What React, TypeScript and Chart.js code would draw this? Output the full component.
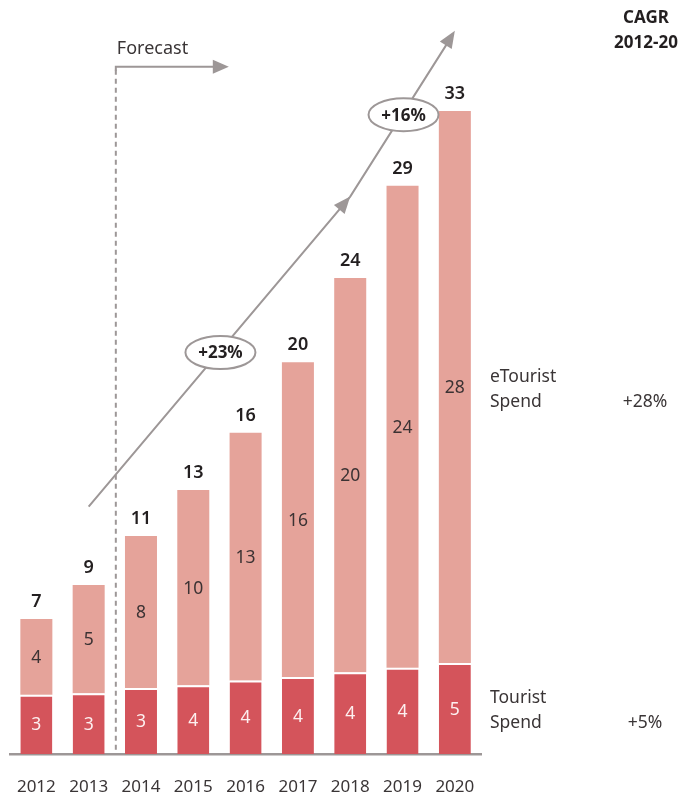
import React, { useEffect, useRef } from "react";
import { Chart, registerables } from "chart.js";

Chart.register(...registerables);

const years = ["2012", "2013", "2014", "2015", "2016", "2017", "2018", "2019", "2020"];
const touristSpend = [3.06, 3.13, 3.4, 3.54, 3.79, 3.96, 4.21, 4.44, 4.68];
const eTouristSpend = [3.88, 5.55, 7.79, 10.01, 12.7, 16.14, 20.22, 24.72, 28.31];
const touristLabels = ["3", "3", "3", "4", "4", "4", "4", "4", "5"];
const eTouristLabels = ["4", "5", "8", "10", "13", "16", "20", "24", "28"];
const totalLabels = ["7", "9", "11", "13", "16", "20", "24", "29", "33"];
const seriesNames = [["Tourist", "Spend"], ["eTourist", "Spend"]];
const cagrValues = ["+5%", "+28%"];
const cagrTitle = ["CAGR", "2012-20"];
const growthLabels = ["+23%", "+16%"];
const forecastLabel = "Forecast";

const FONT = '"Noto Sans", "DejaVu Sans", sans-serif';
const DARK = "#d4545b";
const LIGHT = "#e5a39a";
const GREY = "#9d9797";
const TEXT = "#231f20";

function arrowHead(ctx: CanvasRenderingContext2D, x0: number, y0: number, x1: number, y1: number, len: number, half: number) {
  const a = Math.atan2(y1 - y0, x1 - x0);
  const bx = x1 - len * Math.cos(a);
  const by = y1 - len * Math.sin(a);
  ctx.beginPath();
  ctx.moveTo(x1, y1);
  ctx.lineTo(bx + half * Math.sin(a), by - half * Math.cos(a));
  ctx.lineTo(bx - half * Math.sin(a), by + half * Math.cos(a));
  ctx.closePath();
  ctx.fill();
}

const overlayPlugin = {
  id: "overlay",
  afterDatasetsDraw(chart: any) {
    const ctx: CanvasRenderingContext2D = chart.ctx;
    const xs = chart.scales.x;
    const ys = chart.scales.y;
    const area = chart.chartArea;
    ctx.save();
    ctx.textAlign = "center";
    ctx.textBaseline = "middle";

    // segment labels
    const m0 = chart.getDatasetMeta(0);
    const m1 = chart.getDatasetMeta(1);
    m0.data.forEach((el: any, i: number) => {
      ctx.font = `17.5px ${FONT}`;
      ctx.fillStyle = "#fdf0f0";
      ctx.fillText(touristLabels[i], el.x, (el.y + el.base) / 2 + 1);
    });
    m1.data.forEach((el: any, i: number) => {
      ctx.font = `17.5px ${FONT}`;
      ctx.fillStyle = "#3b3233";
      ctx.fillText(eTouristLabels[i], el.x, (el.y + el.base) / 2 + 1);
      ctx.font = `600 18px ${FONT}`;
      ctx.fillStyle = TEXT;
      ctx.fillText(totalLabels[i], el.x, el.y - 17);
    });

    // forecast divider
    const fx = (xs.getPixelForValue(1) + xs.getPixelForValue(2)) / 2 + 1;
    const fy = ys.getPixelForValue(35.26);
    ctx.strokeStyle = GREY;
    ctx.fillStyle = GREY;
    ctx.lineWidth = 2;
    ctx.setLineDash([5, 4]);
    ctx.beginPath();
    ctx.moveTo(fx, fy + 3);
    ctx.lineTo(fx, area.bottom);
    ctx.stroke();
    ctx.setLineDash([]);
    const fEnd = fx + 113;
    ctx.beginPath();
    ctx.moveTo(fx, fy + 4);
    ctx.lineTo(fx, fy);
    ctx.lineTo(fEnd - 12, fy);
    ctx.stroke();
    arrowHead(ctx, fx, fy, fEnd, fy, 16, 7);
    ctx.font = `18px ${FONT}`;
    ctx.fillStyle = "#3a3536";
    ctx.textAlign = "left";
    ctx.fillText(forecastLabel, fx + 1, fy - 18);

    // growth arrow
    const p0 = { x: xs.getPixelForValue(1), y: ys.getPixelForValue(12.7) };
    const p1 = { x: xs.getPixelForValue(6), y: ys.getPixelForValue(28.6) };
    const p2 = { x: xs.getPixelForValue(8), y: ys.getPixelForValue(37.1) };
    ctx.strokeStyle = GREY;
    ctx.fillStyle = GREY;
    ctx.lineWidth = 2;
    ctx.beginPath();
    ctx.moveTo(p0.x, p0.y);
    ctx.lineTo(p1.x, p1.y);
    ctx.lineTo(p2.x - 6, p2.y + 10);
    ctx.stroke();
    arrowHead(ctx, p0.x, p0.y, p1.x, p1.y, 17, 7);
    arrowHead(ctx, p1.x, p1.y, p2.x, p2.y, 17, 7);

    const bubbles = [
      { x: (xs.getPixelForValue(3) + xs.getPixelForValue(4)) / 2 + 1, y: ys.getPixelForValue(20.6), t: growthLabels[0] },
      { x: xs.getPixelForValue(7) + 1, y: ys.getPixelForValue(32.8), t: growthLabels[1] },
    ];
    bubbles.forEach((b) => {
      ctx.beginPath();
      ctx.ellipse(b.x, b.y, 35, 16.5, 0, 0, Math.PI * 2);
      ctx.fillStyle = "#ffffff";
      ctx.fill();
      ctx.strokeStyle = GREY;
      ctx.lineWidth = 2;
      ctx.stroke();
      ctx.fillStyle = TEXT;
      ctx.font = `bold 17px ${FONT}`;
      ctx.textAlign = "center";
      ctx.fillText(b.t, b.x, b.y + 1);
    });

    // right-hand series labels and CAGR
    const last = years.length - 1;
    const lx = area.right + 9;
    const vx = 645;
    const segs = [m0.data[last], m1.data[last]];
    segs.forEach((el: any, k: number) => {
      const cy = (el.y + el.base) / 2 + 2;
      ctx.font = `17.5px ${FONT}`;
      ctx.fillStyle = "#3a3536";
      ctx.textAlign = "left";
      ctx.fillText(seriesNames[k][0], lx, cy - 12.5);
      ctx.fillText(seriesNames[k][1], lx, cy + 12.5);
      ctx.textAlign = "center";
      ctx.fillText(cagrValues[k], vx, cy + 12.5);
    });
    ctx.font = `bold 17px ${FONT}`;
    ctx.fillStyle = TEXT;
    ctx.textAlign = "center";
    ctx.fillText(cagrTitle[0], 646, 18);
    ctx.fillText(cagrTitle[1], 646, 43);
    ctx.restore();
  },
};

export default function App() {
  const ref = useRef<HTMLCanvasElement>(null);
  useEffect(() => {
    if (!ref.current) return;
    const chart = new Chart(ref.current, {
      type: "bar",
      data: {
        labels: years,
        datasets: [
          {
            label: "Tourist Spend",
            data: touristSpend,
            backgroundColor: DARK,
            borderColor: "#ffffff",
            borderWidth: { top: 2, left: 0, right: 0, bottom: 0 },
            borderSkipped: false,
            categoryPercentage: 1,
            barPercentage: 0.612,
          },
          {
            label: "eTourist Spend",
            data: eTouristSpend,
            backgroundColor: LIGHT,
            borderWidth: 0,
            categoryPercentage: 1,
            barPercentage: 0.612,
          },
        ],
      },
      options: {
        animation: false,
        responsive: false,
        maintainAspectRatio: false,
        layout: { padding: { left: 10.2, right: 202, top: 13.3, bottom: 0.3 } },
        plugins: { legend: { display: false }, tooltip: { enabled: false } },
        scales: {
          x: {
            stacked: true,
            grid: { display: false, drawTicks: true, tickLength: 23 },
            border: { display: true, color: GREY, width: 2.5 },
            ticks: { color: "#3a3536", font: { family: FONT, size: 17 }, padding: 0 },
          },
          y: { stacked: true, display: false, min: 0, max: 38 },
        },
      },
      plugins: [overlayPlugin],
    });
    return () => chart.destroy();
  }, []);
  return (
    <div style={{ position: "absolute", left: 0, top: 0, width: 683, height: 798, overflow: "hidden", background: "#fff" }}>
      <canvas ref={ref} width={683} height={798} style={{ display: "block" }} />
    </div>
  );
}
